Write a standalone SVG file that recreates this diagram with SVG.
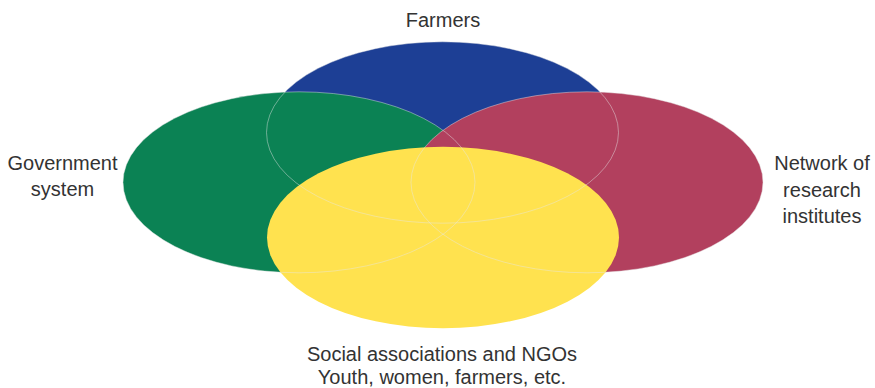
<svg xmlns="http://www.w3.org/2000/svg" width="875" height="388" viewBox="0 0 875 388">
<style>
.lbl{font-family:"Liberation Sans",Arial,sans-serif;font-size:20px;fill:#333333;text-anchor:middle}
.ol{fill:none;stroke:#e6e6e6;stroke-width:0.6;stroke-opacity:0.75}
</style>
<rect width="875" height="388" fill="#ffffff"/>
<g id="node-farmers">
<ellipse cx="442.5" cy="132.5" rx="176" ry="90.7" fill="#1D3F95"/>
</g>
<g id="node-government">
<ellipse cx="299" cy="182.3" rx="176" ry="90.5" fill="#0B8254"/>
</g>
<g id="node-research">
<ellipse cx="587" cy="182.3" rx="176" ry="90.5" fill="#B2405E"/>
</g>
<g id="node-social">
<ellipse cx="443" cy="237.5" rx="176" ry="90.7" fill="#FFE24F"/>
</g>
<g id="outlines">
<ellipse class="ol" cx="442.5" cy="132.5" rx="176" ry="90.7"/>
<ellipse class="ol" cx="299" cy="182.3" rx="176" ry="90.5"/>
<ellipse class="ol" cx="587" cy="182.3" rx="176" ry="90.5"/>
</g>
<g id="labels">
<text class="lbl" x="443" y="27.3">Farmers</text>
<text class="lbl" x="62.5" y="170">Government</text>
<text class="lbl" x="62.5" y="196">system</text>
<text class="lbl" x="822" y="170">Network of</text>
<text class="lbl" x="822" y="196.5">research</text>
<text class="lbl" x="822" y="222.7">institutes</text>
<text class="lbl" x="442" y="360.7">Social associations and NGOs</text>
<text class="lbl" x="442" y="384.3">Youth, women, farmers, etc.</text>
</g>
</svg>
